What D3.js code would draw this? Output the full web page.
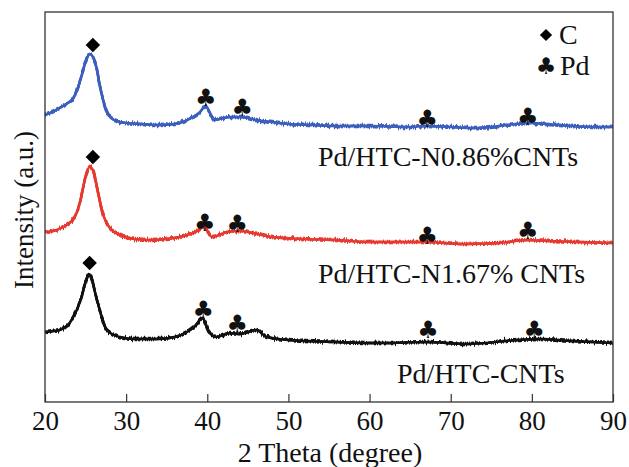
<!DOCTYPE html>
<html>
<head>
<meta charset="utf-8">
<script src="https://cdn.jsdelivr.net/npm/d3@7"></script>
<style>
  body { margin: 0; background: #fff; }
  text { font-family: "Liberation Serif", "Times New Roman", serif; fill: #111; }
</style>
</head>
<body>
<svg id="chart" width="629" height="467"></svg>
<script>
// 2 Theta positions and intensities (a.u.)
var blueTheta = [20, 20.6, 21.8, 22.8, 23.5, 24, 24.5, 25, 25.5, 26.2, 26.8, 27.4, 28, 29.2, 30, 32, 34, 36, 37, 38, 39, 39.8, 40.4, 41, 42, 43, 44, 45, 46, 48, 50, 53, 56, 60, 65, 67, 70, 73, 76, 78, 80, 82, 85, 88, 90];
var blueValues = [287, 289, 294, 299, 304, 313, 326, 340, 348, 339, 315, 295, 285, 280, 279, 278, 277, 278, 280, 284, 289, 296, 288, 282, 284, 285, 285, 284, 282, 280, 278, 277, 276, 276, 275, 276, 275, 274, 276, 278, 279, 278, 276, 275, 275];

var redTheta = [20, 21, 22, 23, 23.5, 24.3, 24.9, 25.5, 26, 26.4, 27.1, 28, 29.6, 31, 33, 35, 37.5, 38.5, 39.6, 40.6, 41.5, 42.4, 44, 45.6, 48, 52, 56, 60, 64, 67, 71.5, 76, 79.4, 82, 86, 90];
var redValues = [170, 171, 174, 179, 183, 199, 222, 235, 230, 215, 189, 174, 166, 163, 162, 163, 167, 170, 175, 165, 167, 170, 171, 169, 165, 163, 162, 160, 160, 160, 158, 159, 162, 161, 160, 159];

var blackTheta = [20, 21, 21.8, 22.8, 23.5, 24.5, 25, 25.4, 25.8, 26.1, 27, 27.6, 29.2, 31, 34, 36, 37.5, 38.5, 39.4, 40.1, 41, 42.8, 44, 46.1, 47.3, 50, 56, 61.6, 67, 72, 78.2, 81, 85, 90];
var blackValues = [70, 71, 72, 77, 85, 105, 120, 128, 122, 112, 85, 72, 65, 63, 63, 65, 70, 76, 84, 72, 65, 69, 68, 72, 65, 62, 60, 59, 60, 58, 62, 63, 61, 59];

// peak markers: [2 theta, height]
var blueDiamond = [[25.9, 357]];
var blueClubs = [[39.8, 304], [44.3, 294], [67.1, 283], [79.5, 285]];
var redDiamond = [[25.9, 245]];
var redClubs = [[39.7, 179], [43.7, 178], [67.1, 166], [79.5, 171]];
var blackDiamond = [[25.5, 139]];
var blackClubs = [[39.5, 92], [43.7, 78], [67.2, 72], [80.3, 72]];

var sampleNames = ["Pd/HTC-N0.86%CNTs", "Pd/HTC-N1.67% CNTs", "Pd/HTC-CNTs"];
var xTicks = [20, 30, 40, 50, 60, 70, 80, 90];

var svg = d3.select("#chart");
var margin = { left: 45, right: 16, top: 12, bottom: 65 };
var W = 629, H = 467;

var x = d3.scaleLinear().domain([20, 90]).range([margin.left, W - margin.right]);
var y = d3.scaleLinear().domain([0, 390]).range([H - margin.bottom, margin.top]);

// jitter filters so the smooth traces look like a noisy scan
var defs = svg.append("defs");
function noiseFilter(id, seed, scale) {
  var f = defs.append("filter").attr("id", id)
    .attr("filterUnits", "userSpaceOnUse")
    .attr("x", 0).attr("y", 0).attr("width", W).attr("height", H)
    .attr("color-interpolation-filters", "sRGB");
  f.append("feTurbulence").attr("type", "fractalNoise")
    .attr("baseFrequency", "0.9 0.02").attr("numOctaves", 2).attr("seed", seed)
    .attr("result", "turb");
  f.append("feColorMatrix").attr("in", "turb").attr("type", "matrix")
    .attr("values", "0 0 0 0 0.5  0 1 0 0 0  0 0 1 0 0  0 0 0 0 1")
    .attr("result", "map");
  f.append("feDisplacementMap").attr("in", "SourceGraphic").attr("in2", "map")
    .attr("scale", scale).attr("xChannelSelector", "R").attr("yChannelSelector", "G");
}
noiseFilter("noisyA", 3, 7);
noiseFilter("noisyB", 11, 6);

var series = [
  { theta: blueTheta, vals: blueValues, color: "#3c5fbd", dia: blueDiamond, clubs: blueClubs, name: sampleNames[0], lx: 318, ly: 166 },
  { theta: redTheta, vals: redValues, color: "#e63a30", dia: redDiamond, clubs: redClubs, name: sampleNames[1], lx: 318, ly: 283 },
  { theta: blackTheta, vals: blackValues, color: "#111111", dia: blackDiamond, clubs: blackClubs, name: sampleNames[2], lx: 397, ly: 383 }
];

var line = d3.line()
  .x(function (d) { return x(d[0]); })
  .y(function (d) { return y(d[1]); })
  .curve(d3.curveMonotoneX);

series.forEach(function (s) {
  var pts = s.theta.map(function (t, i) { return [t, s.vals[i]]; });
  ["noisyA", "noisyB"].forEach(function (fid) {
    svg.append("g").attr("filter", "url(#" + fid + ")")
      .append("path").attr("d", line(pts))
      .attr("fill", "none").attr("stroke", s.color)
      .attr("stroke-width", 2.5).attr("stroke-linejoin", "round");
  });
  svg.append("path").attr("d", line(pts))
    .attr("fill", "none").attr("stroke", s.color)
    .attr("stroke-width", 2.5);

  svg.selectAll(null).data(s.dia).enter().append("path")
    .attr("d", d3.symbol().type(d3.symbolSquare).size(105))
    .attr("transform", function (d) { return "translate(" + x(d[0]) + "," + y(d[1]) + ") rotate(45)"; })
    .attr("fill", "#000");

  svg.selectAll(null).data(s.clubs).enter().append("text")
    .attr("x", function (d) { return x(d[0]); })
    .attr("y", function (d) { return y(d[1]); })
    .attr("text-anchor", "middle").attr("dominant-baseline", "central")
    .style("font-family", "DejaVu Sans").style("font-size", "24px")
    .text("\u2663");

  svg.append("text").attr("x", s.lx).attr("y", s.ly)
    .style("font-size", "28px").text(s.name);
});

// frame
svg.append("rect")
  .attr("x", margin.left).attr("y", margin.top)
  .attr("width", W - margin.left - margin.right)
  .attr("height", H - margin.top - margin.bottom)
  .attr("fill", "none").attr("stroke", "#333").attr("stroke-width", 1.3);

var xAxis = svg.append("g")
  .attr("transform", "translate(0," + (H - margin.bottom) + ")")
  .call(d3.axisBottom(x).tickValues(xTicks).tickSizeInner(-8).tickSizeOuter(0).tickPadding(9));
xAxis.select(".domain").remove();
xAxis.selectAll("line").attr("stroke", "#333").attr("stroke-width", 1.2);
xAxis.selectAll("text").style("font-size", "27px")
  .style("font-family", "Liberation Serif").attr("fill", "#111");

svg.append("text").attr("x", (margin.left + W - margin.right) / 2 + 1).attr("y", 462)
  .attr("text-anchor", "middle").style("font-size", "28px").text("2 Theta (degree)");

svg.append("text")
  .attr("transform", "translate(33,210) rotate(-90)")
  .attr("text-anchor", "middle").style("font-size", "27px").text("Intensity (a.u.)");

// legend
svg.append("path")
  .attr("d", d3.symbol().type(d3.symbolSquare).size(75))
  .attr("transform", "translate(546,35) rotate(45)").attr("fill", "#000");
svg.append("text").attr("x", 559).attr("y", 44).style("font-size", "28px").text("C");
svg.append("text").attr("x", 546).attr("y", 66)
  .attr("text-anchor", "middle").attr("dominant-baseline", "central")
  .style("font-family", "DejaVu Sans").style("font-size", "23px").text("\u2663");
svg.append("text").attr("x", 560).attr("y", 75).style("font-size", "28px").text("Pd");
</script>
</body>
</html>
